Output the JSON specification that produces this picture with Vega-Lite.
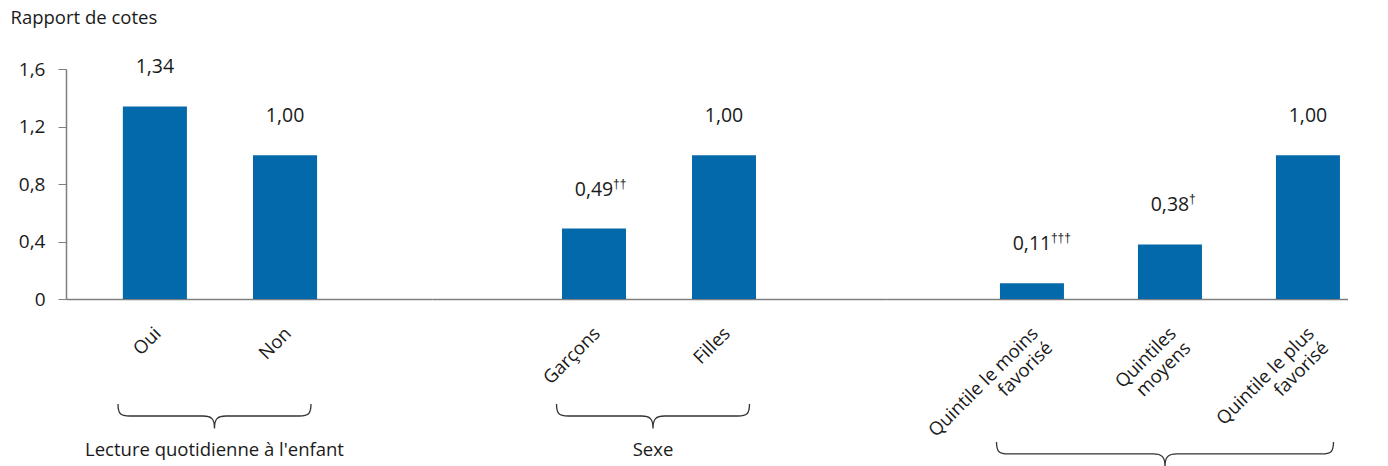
{
  "$schema": "https://vega.github.io/schema/vega-lite/v6.json",
  "background": "white",
  "padding": {"left": 10, "top": 8, "right": 0, "bottom": 0},
  "spacing": 0,
  "bounds": "flush",
  "config": {
    "font": "Open Sans",
    "view": {"stroke": null},
    "locale": {"number": {"decimal": ",", "thousands": " ", "grouping": [3], "currency": ["", " $"]}},
    "axis": {"labelFont": "Open Sans", "titleFont": "Open Sans", "labelColor": "#1a1a1a", "titleColor": "#1a1a1a", "domainColor": "#7f7f7f", "tickColor": "#7f7f7f", "grid": false},
    "text": {"font": "Open Sans", "color": "#1a1a1a"}
  },
  "datasets": {
    "bars": [
      {"group": "Lecture quotidienne à l'enfant", "category": "Oui", "value": 1.34, "sig": ""},
      {"group": "Lecture quotidienne à l'enfant", "category": "Non", "value": 1.0, "sig": ""},
      {"group": "Sexe", "category": "Garçons", "value": 0.49, "sig": "††"},
      {"group": "Sexe", "category": "Filles", "value": 1.0, "sig": ""},
      {"group": "Statut socioéconomique", "category": "Quintile le moins favorisé", "value": 0.11, "sig": "†††"},
      {"group": "Statut socioéconomique", "category": "Quintiles moyens", "value": 0.38, "sig": "†"},
      {"group": "Statut socioéconomique", "category": "Quintile le plus favorisé", "value": 1.0, "sig": ""}
    ],
    "groups": [
      {"group": "Lecture quotidienne à l'enfant"},
      {"group": "Sexe"},
      {"group": "Statut socioéconomique"}
    ]
  },
  "hconcat": [
    {
      "width": 366,
      "height": 230,
      "resolve": {"scale": {"x": "independent"}, "axis": {"x": "independent"}},
      "layer": [
        {
          "data": {"name": "bars"},
          "transform": [{"filter": {"field": "group", "equal": "Lecture quotidienne à l'enfant"}}],
          "encoding": {
            "x": {"field": "category", "type": "nominal", "sort": null,
              "scale": {"paddingInner": 0.5077, "paddingOuter": 0.66, "align": 0.331},
              "axis": {"title": null, "ticks": false, "domainWidth": 1.5, "labelAngle": -45, "labelAlign": "right", "labelBaseline": "middle", "labelPadding": 31, "labelOffset": 3, "labelFontSize": 18.5, "labelBound": false, "labelOverlap": false}},
            "y": {"field": "value", "type": "quantitative", "scale": {"domain": [0, 1.6], "nice": false, "zero": true},
              "axis": {"values": [0, 0.4, 0.8, 1.2, 1.6], "format": ".1~f", "title": "Rapport de cotes", "titleAngle": 0, "titleAlign": "left", "titleBaseline": "alphabetic", "titleX": -56, "titleY": -46, "titleFontSize": 18.5, "titleFontWeight": "normal", "tickSize": 8, "labelPadding": 13, "labelFontSize": 19, "domainWidth": 1.5}}
          },
          "layer": [
            {"mark": {"type": "bar", "color": "#0369aa"}},
            {"mark": {"type": "text", "dy": -33, "baseline": "alphabetic", "fontSize": 19.5, "fill": "#1a1a1a"},
             "encoding": {"text": {"field": "value", "type": "quantitative", "format": ".2f"}}},
            {"mark": {"type": "text", "dy": -41, "dx": 19, "align": "left", "baseline": "alphabetic", "fontSize": 12, "font": "Liberation Sans", "fill": "#1a1a1a"},
             "encoding": {"text": {"field": "sig"}}}
          ]
        },
        {
          "data": {"name": "groups"},
          "transform": [{"filter": {"field": "group", "equal": "Lecture quotidienne à l'enfant"}}],
          "encoding": {
            "x": {"field": "group", "type": "nominal", "scale": {"align": 0.4057}, "axis": null}
          },
          "layer": [
            {"mark": {"type": "point", "shape": "M -1 -0.125 C -1 -0.02 -0.97 0 -0.88 0 L -0.12 0 C -0.03 0 0 0.03 0 0.13 C 0 0.03 0.03 0 0.12 0 L 0.88 0 C 0.97 0 1 -0.02 1 -0.125", "size": 37249, "filled": false, "stroke": "#333333", "strokeWidth": 1.3, "opacity": 1},
             "encoding": {"y": {"datum": -0.814, "type": "quantitative"}}},
            {"mark": {"type": "text", "baseline": "alphabetic", "fontSize": 18.5, "fill": "#1a1a1a"},
             "encoding": {"y": {"datum": -1.092, "type": "quantitative"}, "text": {"field": "group"}}}
          ]
        }
      ]
    },
    {
      "width": 454,
      "height": 230,
      "resolve": {"scale": {"x": "independent"}, "axis": {"x": "independent"}},
      "layer": [
        {
          "data": {"name": "bars"},
          "transform": [{"filter": {"field": "group", "equal": "Sexe"}}],
          "encoding": {
            "x": {"field": "category", "type": "nominal", "sort": null,
              "scale": {"paddingInner": 0.5077, "paddingOuter": 1, "align": 0.5},
              "axis": {"title": null, "ticks": false, "domainWidth": 1.5, "labelAngle": -45, "labelAlign": "right", "labelBaseline": "middle", "labelPadding": 31, "labelOffset": 3, "labelFontSize": 18.5, "labelBound": false, "labelOverlap": false}},
            "y": {"field": "value", "type": "quantitative", "scale": {"domain": [0, 1.6], "nice": false, "zero": true}, "axis": null}
          },
          "layer": [
            {"mark": {"type": "bar", "color": "#0369aa"}},
            {"mark": {"type": "text", "dy": -33, "baseline": "alphabetic", "fontSize": 19.5, "fill": "#1a1a1a"},
             "encoding": {"text": {"field": "value", "type": "quantitative", "format": ".2f"}}},
            {"mark": {"type": "text", "dy": -41, "dx": 19, "align": "left", "baseline": "alphabetic", "fontSize": 12, "font": "Liberation Sans", "fill": "#1a1a1a"},
             "encoding": {"text": {"field": "sig"}}}
          ]
        },
        {
          "data": {"name": "groups"},
          "transform": [{"filter": {"field": "group", "equal": "Sexe"}}],
          "encoding": {
            "x": {"field": "group", "type": "nominal", "scale": {"align": 0.4868}, "axis": null}
          },
          "layer": [
            {"mark": {"type": "point", "shape": "M -1 -0.125 C -1 -0.02 -0.97 0 -0.88 0 L -0.12 0 C -0.03 0 0 0.03 0 0.13 C 0 0.03 0.03 0 0.12 0 L 0.88 0 C 0.97 0 1 -0.02 1 -0.125", "size": 37249, "filled": false, "stroke": "#333333", "strokeWidth": 1.3, "opacity": 1},
             "encoding": {"y": {"datum": -0.814, "type": "quantitative", "axis": null}}},
            {"mark": {"type": "text", "baseline": "alphabetic", "fontSize": 18.5, "fill": "#1a1a1a"},
             "encoding": {"y": {"datum": -1.092, "type": "quantitative", "axis": null}, "text": {"field": "group"}}}
          ]
        }
      ]
    },
    {
      "width": 462,
      "height": 230,
      "resolve": {"scale": {"x": "independent"}, "axis": {"x": "independent"}},
      "layer": [
        {
          "data": {"name": "bars"},
          "transform": [{"filter": {"field": "group", "equal": "Statut socioéconomique"}}],
          "encoding": {
            "x": {"field": "category", "type": "nominal", "sort": null,
              "scale": {"paddingInner": 0.5362, "paddingOuter": 0.442, "align": 0.934},
              "axis": {"title": null, "ticks": false, "domainWidth": 1.5, "labelAngle": -45, "labelAlign": "right", "labelBaseline": "middle", "labelPadding": 31, "labelOffset": 3, "labelFontSize": 18.5, "labelBound": false, "labelOverlap": false,
                "labelExpr": "datum.value == 'Quintiles moyens' ? ['Quintiles', 'moyens'] : datum.value == 'Quintile le moins favorisé' ? ['Quintile le moins', 'favorisé'] : ['Quintile le plus', 'favorisé']"}},
            "y": {"field": "value", "type": "quantitative", "scale": {"domain": [0, 1.6], "nice": false, "zero": true}, "axis": null}
          },
          "layer": [
            {"mark": {"type": "bar", "color": "#0369aa"}},
            {"mark": {"type": "text", "dy": -33, "baseline": "alphabetic", "fontSize": 19.5, "fill": "#1a1a1a"},
             "encoding": {"text": {"field": "value", "type": "quantitative", "format": ".2f"}}},
            {"mark": {"type": "text", "dy": -41, "dx": 19, "align": "left", "baseline": "alphabetic", "fontSize": 12, "font": "Liberation Sans", "fill": "#1a1a1a"},
             "encoding": {"text": {"field": "sig"}}}
          ]
        },
        {
          "data": {"name": "groups"},
          "transform": [{"filter": {"field": "group", "equal": "Statut socioéconomique"}}],
          "encoding": {
            "x": {"field": "group", "type": "nominal", "scale": {"align": 0.6039}, "axis": null}
          },
          "layer": [
            {"mark": {"type": "point", "shape": "M -1 -0.071 C -1 -0.012 -0.983 0 -0.93 0 L -0.07 0 C -0.018 0 0 0.018 0 0.074 C 0 0.018 0.018 0 0.07 0 L 0.93 0 C 0.983 0 1 -0.012 1 -0.071", "size": 113569, "filled": false, "stroke": "#333333", "strokeWidth": 1.3, "opacity": 1},
             "encoding": {"y": {"datum": -1.078, "type": "quantitative", "axis": null}}},
            {"mark": {"type": "text", "baseline": "alphabetic", "fontSize": 18.5, "fill": "#1a1a1a"},
             "encoding": {"y": {"datum": -1.45, "type": "quantitative", "axis": null}, "text": {"field": "group"}}}
          ]
        }
      ]
    }
  ]
}
